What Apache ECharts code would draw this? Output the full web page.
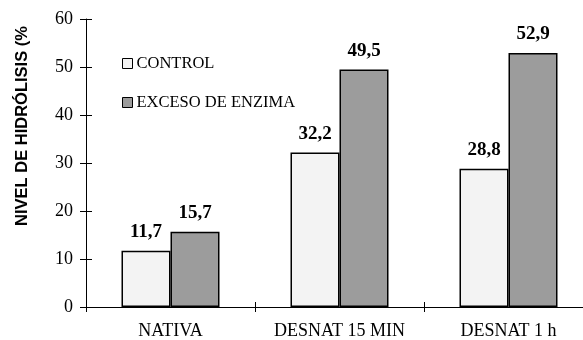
<!DOCTYPE html>
<html><head><meta charset="utf-8">
<script src="https://cdn.jsdelivr.net/npm/echarts@6/dist/echarts.min.js"></script>
<style>html,body{margin:0;padding:0;background:#fff}#c{width:583px;height:340px}</style>
</head><body><div id="c"></div>
<script>
var categories = ['NATIVA', 'DESNAT 15 MIN', 'DESNAT 1 h'];
var controlValues = [11.7, 32.2, 28.8];
var enzimaValues = [15.7, 49.5, 52.9];
var seriesNames = ['CONTROL', 'EXCESO DE ENZIMA'];
var yTitle = 'NIVEL DE HIDRÓLISIS (%';

var serif = '"Liberation Serif", "Times New Roman", serif';
var chart = echarts.init(document.getElementById('c'));
function fmt(p){ return String(p.value).replace('.', ','); }
var label = {show:true, position:'top', distance:9, formatter:fmt, fontFamily:serif, fontWeight:'bold', fontSize:19, color:'#000'};
chart.setOption({
  animation:false,
  grid:{left:86, top:19, right:-10, bottom:33, containLabel:false, outerBoundsMode:'none'},
  legend:{orient:'vertical', left:122, top:55, padding:0, itemWidth:10, itemHeight:10, itemGap:22, icon:'rect',
    textStyle:{fontFamily:serif, fontSize:16.5, color:'#000', padding:[0,0,0,-1]},
    itemStyle:{borderColor:'#000', borderWidth:1}, data:seriesNames},
  graphic:[{type:'text', x:22, y:126, rotation:Math.PI/2,
    style:{text:yTitle, font:'bold 16.5px "Liberation Sans", Arial, sans-serif', fill:'#000', align:'center', verticalAlign:'middle'}}],
  xAxis:[{type:'category', data:categories, axisLine:{lineStyle:{color:'#000', width:1}},
    axisTick:{show:true, length:5, lineStyle:{color:'#000'}},
    axisLabel:{fontFamily:serif, fontSize:18, color:'#000', margin:15, interval:0, hideOverlap:false}},
    {type:'category', data:categories, position:'bottom', axisLine:{show:false},
    axisTick:{show:true, inside:true, length:5, lineStyle:{color:'#000'}}, axisLabel:{show:false}}],
  yAxis:[{type:'value', min:0, max:60, interval:10, splitLine:{show:false},
    axisLine:{show:true, lineStyle:{color:'#000', width:1}},
    axisTick:{show:true, length:6, lineStyle:{color:'#000'}},
    axisLabel:{fontFamily:serif, fontSize:18, color:'#000', margin:13}},
    {type:'value', min:0, max:60, interval:10, position:'left', splitLine:{show:false}, axisLine:{show:false},
    axisTick:{show:true, inside:true, length:6, lineStyle:{color:'#000'}}, axisLabel:{show:false}}],
  series:[
    {name:seriesNames[0], type:'bar', data:controlValues, barWidth:49, barGap:'0%',
      itemStyle:{color:'#f3f3f3', borderColor:'#000', borderWidth:1.5}, label:label},
    {name:seriesNames[1], type:'bar', data:enzimaValues, barWidth:49, barGap:'0%',
      itemStyle:{color:'#9c9c9c', borderColor:'#000', borderWidth:1.5}, label:label}
  ]
});
</script></body></html>
